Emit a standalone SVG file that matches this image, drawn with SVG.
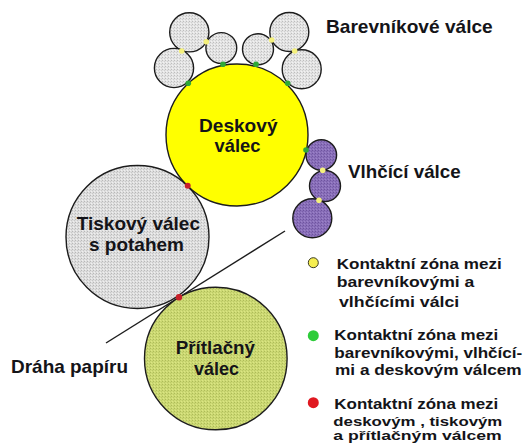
<svg xmlns="http://www.w3.org/2000/svg" width="529" height="443" viewBox="0 0 529 443">
<defs>
<pattern id="sg" width="3" height="3" patternUnits="userSpaceOnUse"><rect width="3" height="3" fill="#e4e4e4"/><rect x="0" y="0" width="1" height="1" fill="#bdbdbd"/><rect x="2" y="1" width="1" height="1" fill="#cfcfcf"/><rect x="1" y="2" width="1" height="1" fill="#f2f2f2"/></pattern>
<pattern id="st" width="3" height="3" patternUnits="userSpaceOnUse"><rect width="3" height="3" fill="#dedede"/><rect x="0" y="0" width="1" height="1" fill="#b8b8b8"/><rect x="2" y="1" width="1" height="1" fill="#c8c8c8"/><rect x="1" y="2" width="1" height="1" fill="#efefef"/></pattern>
<pattern id="sp" width="3" height="3" patternUnits="userSpaceOnUse"><rect width="3" height="3" fill="#8a70ba"/><rect x="0" y="0" width="1" height="1" fill="#6e549e"/><rect x="2" y="1" width="1" height="1" fill="#7a60aa"/><rect x="1" y="2" width="1" height="1" fill="#9c84c8"/></pattern>
<pattern id="sl" width="3" height="3" patternUnits="userSpaceOnUse"><rect width="3" height="3" fill="#ccd974"/><rect x="0" y="0" width="1" height="1" fill="#aebb58"/><rect x="2" y="1" width="1" height="1" fill="#bdca66"/><rect x="1" y="2" width="1" height="1" fill="#dce684"/></pattern>
</defs>
<style>
.c{stroke:#1c1c1c;stroke-width:1.4}
.g{fill:url(#sg)}.p{fill:url(#sp)}.y{fill:#ffff00}.t{fill:url(#st)}.l{fill:url(#sl)}
.dy{fill:#f4f07c}.dg{fill:#2fa836}.dr{fill:#c8202a}
text{font-family:"Liberation Sans",Arial,sans-serif;font-weight:700;fill:#141418}
.a{font-size:18.5px}.b{font-size:15.5px}.m{font-size:18.5px}.s{font-size:13.5px}
</style>
<rect width="529" height="443" fill="#ffffff"/>
<g id="connectors"><line x1="106" y1="343" x2="285" y2="231" stroke="#1c1c1c" stroke-width="1.4"/></g>
<g id="barevnik-1"><circle class="c g" cx="189.3" cy="32.3" r="19.6"/></g>
<g id="barevnik-2"><circle class="c g" cx="174" cy="68" r="19.6"/></g>
<g id="barevnik-3"><circle class="c g" cx="221.3" cy="48" r="15.4"/></g>
<g id="barevnik-4"><circle class="c g" cx="258" cy="49.3" r="15.5"/></g>
<g id="barevnik-5"><circle class="c g" cx="289.3" cy="32" r="19.5"/></g>
<g id="barevnik-6"><circle class="c g" cx="301.7" cy="69.3" r="19.5"/></g>
<g id="deskovy"><circle class="c y" cx="237" cy="135" r="71"/>
<text class="m" x="199" y="131.7" textLength="78.5" lengthAdjust="spacingAndGlyphs">Deskový</text><text class="m" x="214.5" y="151.7" textLength="46" lengthAdjust="spacingAndGlyphs">válec</text></g>
<g id="vlhcici-1"><circle class="c p" cx="321.3" cy="155" r="15.3"/></g>
<g id="vlhcici-2"><circle class="c p" cx="325" cy="186" r="15.5"/></g>
<g id="vlhcici-3"><circle class="c p" cx="312.3" cy="218.3" r="19.5"/></g>
<g id="tiskovy"><circle class="c t" cx="137.5" cy="237" r="71.5"/>
<text class="m" x="76.7" y="230" textLength="123.3" lengthAdjust="spacingAndGlyphs">Tiskový válec</text><text class="m" x="89" y="250.7" textLength="95" lengthAdjust="spacingAndGlyphs">s potahem</text></g>
<g id="pritlacny"><circle class="c l" cx="215.8" cy="358.5" r="71.3"/>
<text class="m" x="175.7" y="354" textLength="79.3" lengthAdjust="spacingAndGlyphs">Přítlačný</text><text class="m" x="194" y="375" textLength="45" lengthAdjust="spacingAndGlyphs">válec</text></g>
<g id="contacts">
<circle class="dy" cx="181.7" cy="51" r="2.8"/><circle class="dy" cx="206.3" cy="41.7" r="2.8"/><circle class="dy" cx="271.7" cy="40" r="2.8"/><circle class="dy" cx="294.7" cy="51" r="2.8"/><circle class="dy" cx="322.7" cy="170.3" r="2.8"/><circle class="dy" cx="319" cy="200.3" r="2.8"/>
<circle class="dg" cx="188.3" cy="83.3" r="2.8"/><circle class="dg" cx="223" cy="64.3" r="2.8"/><circle class="dg" cx="256" cy="64.3" r="2.8"/><circle class="dg" cx="287.7" cy="83.3" r="2.8"/><circle class="dg" cx="306" cy="150" r="2.8"/>
<circle class="dr" cx="187.7" cy="185.7" r="3"/><circle class="dr" cx="179" cy="297.3" r="3.2"/>
</g>
<g id="labels">
<text class="a" x="326" y="32.7" textLength="166.7" lengthAdjust="spacingAndGlyphs">Barevníkové válce</text>
<text class="a" x="348" y="178" textLength="112.7" lengthAdjust="spacingAndGlyphs">Vlhčící válce</text>
<text class="a" x="11" y="373.3" textLength="117" lengthAdjust="spacingAndGlyphs">Dráha papíru</text>
</g>
<g id="legend">
<circle cx="313.3" cy="262.7" r="5" fill="#f6ee50" stroke="#3a3a20" stroke-width="1"/>
<text class="b" x="336.7" y="269" textLength="165" lengthAdjust="spacingAndGlyphs">Kontaktní zóna mezi</text><text class="b" x="336.7" y="286.7" textLength="137.6" lengthAdjust="spacingAndGlyphs">barevníkovými  a</text><text class="b" x="339" y="306.7" textLength="120.3" lengthAdjust="spacingAndGlyphs">vlhčícími  válci</text>
<circle cx="313.3" cy="335.7" r="5.5" fill="#2ecc3a"/>
<text class="b" x="334.3" y="340" textLength="164" lengthAdjust="spacingAndGlyphs">Kontaktní zóna mezi</text><text class="b" x="334.3" y="358.3" textLength="188" lengthAdjust="spacingAndGlyphs">barevníkovými, vlhčící-</text><text class="b" x="335" y="375" textLength="186.7" lengthAdjust="spacingAndGlyphs">mi a deskovým válcem</text>
<circle cx="313.3" cy="402.7" r="5.5" fill="#e01820"/>
<text class="b" x="334.3" y="409.3" textLength="164" lengthAdjust="spacingAndGlyphs">Kontaktní zóna mezi</text><text class="s" x="333.3" y="425.5" textLength="169" lengthAdjust="spacingAndGlyphs">deskovým , tiskovým</text><text class="s" x="333.3" y="440" textLength="168.4" lengthAdjust="spacingAndGlyphs">a  přítlačným  válcem</text>
</g>
</svg>
